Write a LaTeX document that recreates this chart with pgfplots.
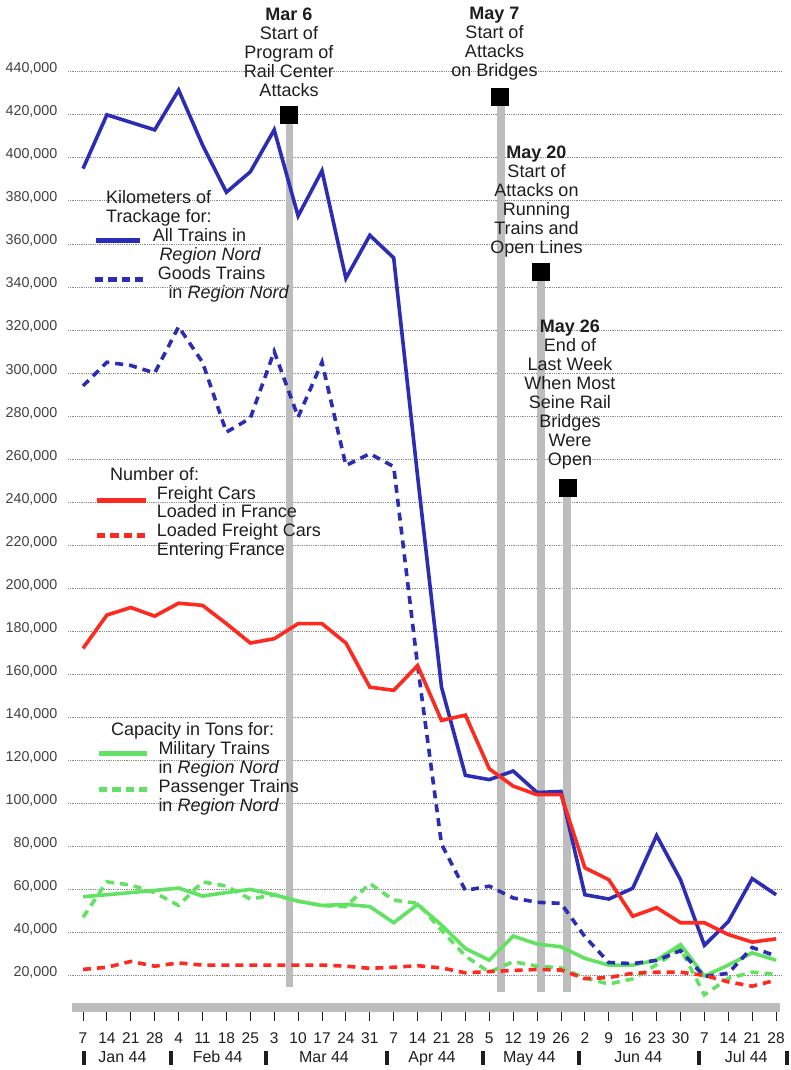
\documentclass[border=0pt]{standalone}
\usepackage{pgfplots}
\usepackage{pgfplotstable}
\pgfplotsset{compat=1.18}
\usepackage{fontspec}
\setmainfont{Liberation Sans}
\definecolor{cblue}{HTML}{2B2EB5}
\definecolor{cred}{HTML}{FF2A1F}
\definecolor{cgreen}{HTML}{62E262}
\definecolor{cbar}{HTML}{BDBDBD}
\definecolor{ctext}{HTML}{1E1E1E}
\definecolor{cgrid}{HTML}{8A8A8A}

\pgfplotstableread{
i all goods freight entering military passenger
0 395000 294000 172000 22800 56600 47000
1 420000 305000 187500 23800 57500 63500
2 416500 303500 191000 26500 58500 62000
3 413000 300000 187000 24300 59500 58500
4 431500 321500 193000 25800 60600 52500
5 406000 305000 192000 24800 56900 63500
6 384000 272500 183500 24800 58500 61500
7 393500 279000 174500 24800 60000 55500
8 413000 310000 176500 24800 57500 57500
9 373000 279500 183500 24800 54500 54500
10 394000 305000 183500 24800 52500 52500
11 344000 257000 174500 24300 53000 52000
12 364000 262500 154000 23300 52000 62700
13 353500 256500 152500 23800 44500 55000
14 252000 164000 164000 24500 53000 53500
15 154000 81000 138500 23500 43400 41000
16 113000 59500 141000 21200 32500 29000
17 111000 61500 116000 21800 27100 21500
18 115000 56000 108000 22300 38300 26400
19 105000 54000 104000 22800 34600 24300
20 105500 53500 104000 22500 33300 23500
21 57500 38000 70000 18500 27900 18800
22 55500 26000 64500 19000 24800 16000
23 60500 25500 47500 21000 24800 18400
24 85000 27000 51500 21500 27100 25000
25 64500 31500 44500 21500 34300 32500
26 34000 19500 44500 20000 19700 11000
27 45000 21000 39000 17000 24800 18600
28 65000 33000 35500 15000 30500 21500
29 57500 29000 37000 17800 27100 20500
}\data

\tikzset{
  ann/.style={anchor=base, inner sep=0pt, text=ctext, font=\fontsize{18}{19}\selectfont},
  leg/.style={anchor=base west, inner sep=0pt, text=ctext, font=\fontsize{18}{19}\selectfont},
  mon/.style={anchor=base, inner sep=0pt, text=ctext, font=\fontsize{16}{18}\selectfont},
  dsh/.style={dash pattern=on 8pt off 6pt},
}

\begin{document}
\begin{tikzpicture}
\useasboundingbox (0,0) rectangle (791pt,1070pt);
\begin{axis}[
  at={(68pt,62.3pt)}, anchor=south west,
  scale only axis, width=714pt, height=935.9pt,
  xmin=-0.628, xmax=29.247, ymin=5000, ymax=440000,
  clip=false,
  axis line style={draw=none},
  xtick={0,...,29},
  xticklabels={7,14,21,28,4,11,18,25,3,10,17,24,31,7,14,21,28,5,12,19,26,2,9,16,23,30,7,14,21,28},
  xtick pos=bottom, ytick pos=left,
  xtick align=outside, ytick align=inside,
  major tick length=13pt,
  x tick style={draw=ctext, line width=1pt},
  y tick style={draw=none},
  ytick={20000,40000,...,440000},
  yticklabels={{20,000},{40,000},{60,000},{80,000},{100,000},{120,000},{140,000},{160,000},{180,000},{200,000},{220,000},{240,000},{260,000},{280,000},{300,000},{320,000},{340,000},{360,000},{380,000},{400,000},{420,000},{440,000}},
  ymajorgrids,
  grid style={cgrid, line width=0.8pt, dash pattern=on 1pt off 0.8pt},
  scaled y ticks=false,
  yticklabel style={anchor=base east, inner sep=0pt, xshift=-10.5pt, yshift=-1pt, text=ctext!85, font=\fontsize{14.3}{16}\selectfont},
  xticklabel style={anchor=base, yshift=-22.6pt, text=ctext, font=\fontsize{15.5}{17}\selectfont},
]
% x axis bar
\draw[line width=9pt, cbar] (axis cs:-0.46,5000) -- (axis cs:29.16,5000);
% event bars
\addplot[forget plot, line width=7.5pt, cbar] coordinates {(8.64,14600) (8.64,420250)};
\addplot[forget plot, line width=8pt, cbar] coordinates {(17.47,12300) (17.47,428200)};
\addplot[forget plot, line width=8pt, cbar] coordinates {(19.16,12300) (19.16,346950)};
\addplot[forget plot, line width=8pt, cbar] coordinates {(20.27,12300) (20.27,246800)};
\addplot[forget plot, only marks, mark=square*, mark size=8.5pt, black] coordinates {(8.62,420250) (17.45,428200) (19.15,346950) (20.3,246800)};
% series
\addplot[no marks, cgreen, line width=3.6pt, dsh] table[x=i, y=passenger] {\data};
\addplot[no marks, cgreen, line width=3.6pt] table[x=i, y=military] {\data};
\addplot[no marks, cblue, line width=3.6pt, dsh] table[x=i, y=goods] {\data};
\addplot[no marks, cblue, line width=3.6pt] table[x=i, y=all] {\data};
\addplot[no marks, cred, line width=3.6pt, dsh] table[x=i, y=entering] {\data};
\addplot[no marks, cred, line width=3.6pt] table[x=i, y=freight] {\data};
\end{axis}

% annotations
\node[ann] at (289pt,1049pt) {\bfseries Mar 6};
\node[ann] at (289pt,1030pt) {Start of};
\node[ann] at (289pt,1011pt) {Program of};
\node[ann] at (289pt,992pt) {Rail Center};
\node[ann] at (289pt,973pt) {Attacks};

\node[ann] at (494.5pt,1050.7pt) {\bfseries May 7};
\node[ann] at (494.5pt,1031.7pt) {Start of};
\node[ann] at (494.5pt,1012.7pt) {Attacks};
\node[ann] at (494.5pt,993.7pt) {on Bridges};

\node[ann] at (536.5pt,911pt) {\bfseries May 20};
\node[ann] at (536.5pt,892pt) {Start of};
\node[ann] at (536.5pt,873pt) {Attacks on};
\node[ann] at (536.5pt,854pt) {Running};
\node[ann] at (536.5pt,835pt) {Trains and};
\node[ann] at (536.5pt,816pt) {Open Lines};

\node[ann] at (570pt,737pt) {\bfseries May 26};
\node[ann] at (570pt,718pt) {End of};
\node[ann] at (570pt,699pt) {Last Week};
\node[ann] at (570pt,680pt) {When Most};
\node[ann] at (570pt,661pt) {Seine Rail};
\node[ann] at (570pt,642pt) {Bridges};
\node[ann] at (570pt,623pt) {Were};
\node[ann] at (570pt,604pt) {Open};

% legend 1
\node[leg] at (106pt,866pt) {Kilometers of};
\node[leg] at (106pt,847pt) {Trackage for:};
\draw[cblue, line width=5pt] (96pt,829pt) -- (140pt,829pt);
\node[leg] at (152.7pt,828pt) {All Trains in};
\node[leg] at (159.3pt,809.5pt) {\itshape Region Nord};
\draw[cblue, line width=5pt, dash pattern=on 8.3pt off 5pt] (95pt,790.7pt) -- (143pt,790.7pt);
\node[leg] at (157.7pt,790.5pt) {Goods Trains};
\node[leg] at (168.3pt,771.5pt) {in \itshape Region Nord};

% legend 2
\node[leg] at (110pt,589pt) {Number of:};
\draw[cred, line width=5pt] (97.3pt,569pt) -- (145.7pt,569pt);
\node[leg] at (156.7pt,570.5pt) {Freight Cars};
\node[leg] at (156.7pt,552pt) {Loaded in France};
\draw[cred, line width=5pt, dash pattern=on 8.3pt off 5pt] (97pt,534pt) -- (146pt,534pt);
\node[leg] at (156.7pt,533pt) {Loaded Freight Cars};
\node[leg] at (156.7pt,514pt) {Entering France};

% legend 3
\node[leg] at (111pt,334pt) {Capacity in Tons for:};
\draw[cgreen, line width=5pt] (99.3pt,316.7pt) -- (146.7pt,316.7pt);
\node[leg] at (158.3pt,315pt) {Military Trains};
\node[leg] at (158.3pt,296pt) {in \itshape Region Nord};
\draw[cgreen, line width=5pt, dash pattern=on 8.3pt off 5pt] (99pt,280pt) -- (147pt,280pt);
\node[leg] at (158.3pt,277pt) {Passenger Trains};
\node[leg] at (158.3pt,258pt) {in \itshape Region Nord};

% month labels
\foreach \xx in {84,171,265.5,386.5,482.7,579.3,699.3,786.7}
  \fill[ctext] ({\xx pt-2pt},5pt) rectangle ({\xx pt+2pt},19pt);
\node[mon] at (122.5pt,7pt) {Jan 44};
\node[mon] at (217.7pt,7pt) {Feb 44};
\node[mon] at (324pt,7pt) {Mar 44};
\node[mon] at (432pt,7pt) {Apr 44};
\node[mon] at (529.3pt,7pt) {May 44};
\node[mon] at (638.3pt,7pt) {Jun 44};
\node[mon] at (746.3pt,7pt) {Jul 44};
\end{tikzpicture}
\end{document}
